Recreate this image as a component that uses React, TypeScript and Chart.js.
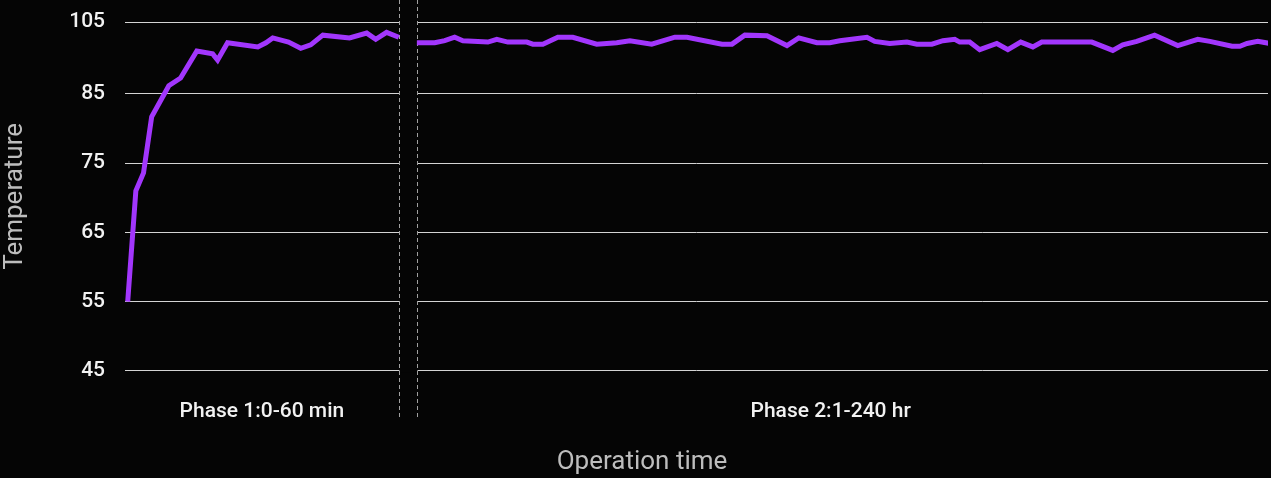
import { useEffect, useRef } from "react";
import { Chart, registerables, type Plugin } from "chart.js";

Chart.register(...registerables);

// Phase 1 – minutes since start-up
const PHASE1_MINUTES = [0, 1.8, 3.5, 5.3, 9.1, 11.7, 15.3, 18.8, 19.9, 22.1, 28.8, 30.6, 32.1, 35.6, 38.3, 40.5, 43.2, 49.1, 52.9, 54.9, 57.3, 60];
const PHASE1_TEMPS = [55.0, 71.0, 73.6, 81.7, 86.2, 87.3, 91.2, 90.8, 89.9, 92.4, 91.8, 92.4, 93.1, 92.5, 91.6, 92.1, 93.5, 93.1, 93.8, 92.9, 93.9, 93.2];

// Phase 2 – hours of operation
const PHASE2_HOURS = [
  1, 6, 8.8, 11.6, 13.9, 20.9, 23.4, 26.5, 31.8, 33.5, 36.3, 40.5, 44.7, 51.4, 57, 60.7, 66.8, 73.3, 76.7, 86.5,
  89.3, 92.9, 99.1, 104.7, 108, 113.1, 116.7, 119.5, 127.1, 129.3, 133.5, 138.3, 141.1, 145.3, 148.4, 151.7, 153.1,
  155.9, 158.7, 163.5, 166.6, 170.2, 173.6, 176.1, 190.1, 196, 198.8, 202.7, 207.7, 214.2, 219.8, 223.2, 229.4,
  231.6, 233.6, 236.6, 240,
];
const PHASE2_TEMPS = [
  92.4, 92.4, 92.7, 93.2, 92.7, 92.5, 92.9, 92.5, 92.5, 92.2, 92.2, 93.2, 93.2, 92.2, 92.4, 92.7, 92.2, 93.2, 93.2, 92.2,
  92.2, 93.5, 93.4, 92.0, 93.1, 92.4, 92.4, 92.7, 93.2, 92.6, 92.3, 92.5, 92.2, 92.2, 92.7, 92.9, 92.5,
  92.5, 91.4, 92.3, 91.4, 92.5, 91.8, 92.5, 92.5, 91.3, 92.1, 92.6, 93.5, 92.0, 92.9, 92.6, 91.9,
  91.9, 92.3, 92.6, 92.3,
];

const Y_TICKS = [45, 55, 65, 75, 85, 95.4];
const Y_TICK_LABELS = ["45", "55", "65", "75", "85", "105"];
const X_LABELS = ["Phase 1:0-60 min", "Phase 2:1-240 hr"];

// both phases share one x axis: minutes for phase 1, then hours squeezed after a small gap
const PHASE1_END = 60;
const PHASE2_START = 64;
const HOUR_SCALE = 0.79;
const X_LABEL_POS = [29.7, 155.6];

const BG = "#050505";
const LINE = "#a236fd";
const FONT = "Roboto";

const toPos = (h: number) => PHASE2_START + (h - 1) * HOUR_SCALE;

const phaseGap: Plugin = {
  id: "phaseGap",
  beforeDatasetsDraw(chart) {
    const { ctx, chartArea, scales } = chart;
    const x1 = Math.round(scales.x.getPixelForValue(PHASE1_END)) + 0.5;
    const x2 = Math.round(scales.x.getPixelForValue(PHASE2_START)) + 0.5;
    ctx.save();
    ctx.fillStyle = BG;
    ctx.fillRect(x1, chartArea.top - 2, x2 - x1, chartArea.bottom - chartArea.top + 4);
    ctx.strokeStyle = "#a0a0a0";
    ctx.lineWidth = 1;
    ctx.setLineDash([4, 3]);
    for (const x of [x1, x2]) {
      ctx.beginPath();
      ctx.moveTo(x, 0);
      ctx.lineTo(x, chartArea.bottom + 49);
      ctx.stroke();
    }
    ctx.restore();
  },
};

export default function App() {
  const canvasRef = useRef<HTMLCanvasElement>(null);

  useEffect(() => {
    document.body.style.margin = "0";
    document.body.style.background = BG;
    const canvas = canvasRef.current;
    if (!canvas) return;

    const chart = new Chart(canvas, {
      type: "line",
      data: {
        datasets: [
          {
            label: "Phase 1",
            data: PHASE1_MINUTES.map((m, i) => ({ x: m, y: PHASE1_TEMPS[i] })),
            borderColor: LINE,
            borderWidth: 5,
            pointRadius: 0,
            tension: 0,
          },
          {
            label: "Phase 2",
            data: PHASE2_HOURS.map((h, i) => ({ x: toPos(h), y: PHASE2_TEMPS[i] })),
            borderColor: LINE,
            borderWidth: 5,
            pointRadius: 0,
            tension: 0,
          },
        ],
      },
      options: {
        responsive: false,
        animation: false,
        layout: { padding: { left: 16, right: 3, top: 22, bottom: 0 } },
        plugins: {
          legend: { display: false },
          tooltip: { enabled: false },
          title: {
            display: true,
            position: "bottom",
            text: "Operation time",
            color: "#bdbdbd",
            font: { family: FONT, size: 26, weight: "normal" },
            padding: { top: 10, bottom: 0 },
          },
        },
        scales: {
          x: {
            type: "linear",
            min: -0.6,
            max: 252.4,
            grid: { display: false, drawTicks: false },
            border: { display: false },
            afterBuildTicks: (s) => {
              s.ticks = X_LABEL_POS.map((v) => ({ value: v }));
            },
            afterFit: (s) => {
              s.height = 66;
            },
            ticks: {
              autoSkip: false,
              maxRotation: 0,
              padding: 28,
              color: "#f2f2f2",
              font: { family: FONT, size: 21, weight: 500 },
              callback: (_v, i) => X_LABELS[i],
            },
          },
          y: {
            min: 45,
            max: 95.4,
            grid: { color: "#d4d4d4", lineWidth: 1, drawTicks: true, tickLength: 20, tickColor: "rgba(0,0,0,0)" },
            border: { display: false },
            afterBuildTicks: (s) => {
              s.ticks = Y_TICKS.map((v) => ({ value: v }));
            },
            afterFit: (s) => {
              s.width = 109;
            },
            ticks: {
              padding: 0,
              color: "#f2f2f2",
              font: { family: FONT, size: 21, weight: 500 },
              callback: (_v, i) => Y_TICK_LABELS[i],
            },
            title: {
              display: true,
              text: "Temperature",
              color: "#bdbdbd",
              font: { family: FONT, size: 26, weight: "normal" },
              padding: { top: -16, bottom: 0 },
            },
          },
        },
      },
      plugins: [phaseGap],
    });

    return () => chart.destroy();
  }, []);

  return (
    <div style={{ width: 1271, height: 478, background: BG }}>
      <canvas ref={canvasRef} width={1271} height={478} style={{ display: "block" }} />
    </div>
  );
}
